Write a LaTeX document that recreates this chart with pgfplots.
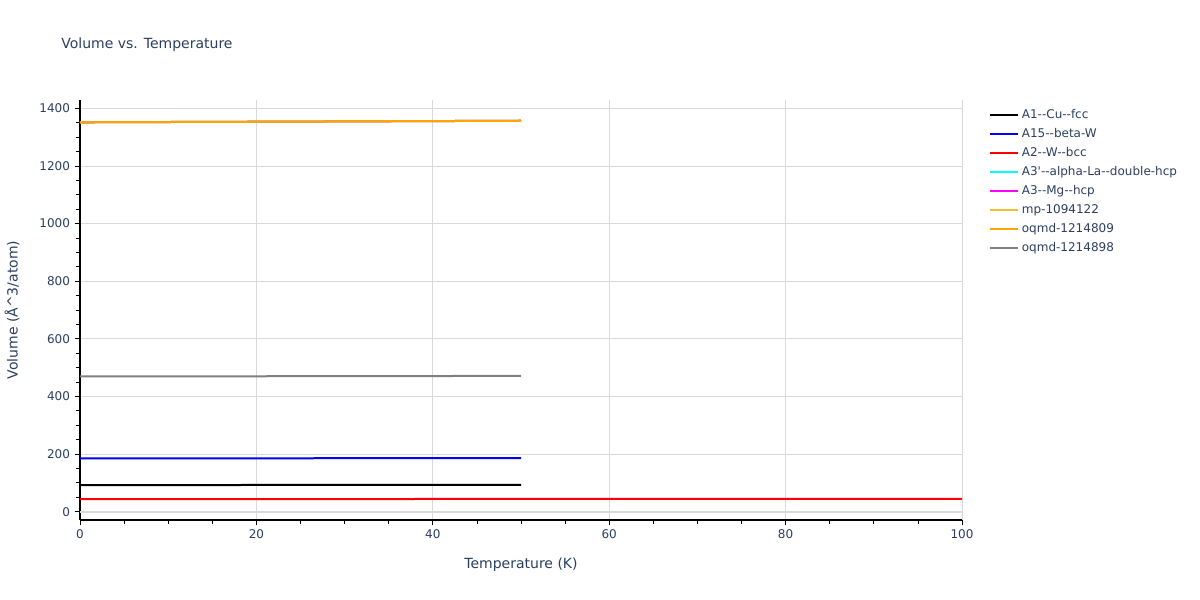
\documentclass[border=0pt]{standalone}
\usepackage{pgfplots}
\pgfplotsset{compat=1.18}
\usepackage{fontspec}
\setmainfont{DejaVu Sans}
\definecolor{plotlytext}{HTML}{2A3F5F}
\definecolor{gridc}{HTML}{D9D9D9}
\definecolor{mpyellow}{HTML}{F0C030}
\definecolor{oqorange}{HTML}{FFA500}
\definecolor{rgbcyan}{RGB}{0,255,255}
\definecolor{rgbmagenta}{RGB}{255,0,255}
\newcommand{\dd}{-{}-}
\begin{document}
\begin{tikzpicture}
  % 1 px of the reference = 0.75pt
  \path[use as bounding box] (0pt,0pt) rectangle (900pt,450pt);
  \node[anchor=west,font=\fontsize{10.5}{12}\selectfont,text=plotlytext] at (42.5pt,416.25pt) {Volume vs. Temperature};
  \begin{axis}[
      at={(60pt,60pt)}, anchor=south west,
      scale only axis,
      width=661.5pt, height=315pt,
      xmin=0, xmax=100,
      ymin=-28.8, ymax=1429,
      xtick={0,20,...,100},
      ytick={0,200,...,1400},
      minor x tick num=3,
      minor y tick num=3,
      tick align=outside,
      major tick length=4pt,
      minor tick length=3pt,
      tick style={black, line width=0.6pt},
      axis x line*=bottom,
      axis y line*=left,
      axis line style={black, line width=0.8pt, -},
      xmajorgrids, ymajorgrids,
      grid style={gridc, line width=0.6pt},
      extra y ticks={0},
      extra y tick labels={},
      extra y tick style={grid style={gridc, line width=1.5pt}},
      ticklabel style={font=\fontsize{9}{10}\selectfont, text=plotlytext},
      /pgf/number format/assume math mode=true,
      /pgf/number format/set thousands separator={},
      xlabel={Temperature (K)},
      ylabel={Volume (Å\^{}3/atom)},
      label style={font=\fontsize{10.5}{12}\selectfont, text=plotlytext},
      xlabel style={yshift=-7pt},
      legend style={at={(1.026,0.99)}, anchor=north west, draw=none, fill=none,
        font=\fontsize{9}{10}\selectfont, text=plotlytext,
        row sep=1.9pt, cells={anchor=west}},
      legend image code/.code={\draw[#1, line width=1.5pt] (0pt,0pt) -- (21pt,0pt);},
      every axis plot/.append style={line width=1.5pt, mark=none},
    ]
    \addplot[black] coordinates {(0,92.5) (10,92.6) (20,92.7) (30,92.8) (40,93.0) (50,93.2)};
    \addlegendentry{A1\dd Cu\dd fcc}
    \addplot[blue] coordinates {(0,185.0) (10,185.2) (20,185.4) (30,185.6) (40,185.9) (50,186.3)};
    \addlegendentry{A15\dd beta-W}
    \addplot[red] coordinates {(0,44.0) (20,44.0) (40,44.1) (60,44.1) (80,44.2) (100,44.2)};
    \addlegendentry{A2\dd W\dd bcc}
    \addplot[rgbcyan] coordinates {(0,1351.6) (10,1352.6) (20,1353.6) (30,1354.6) (40,1355.8) (50,1357.0)};
    \addlegendentry{A3\textquotesingle\dd alpha-La\dd double-hcp}
    \addplot[rgbmagenta] coordinates {(0,1351.6) (10,1352.6) (20,1353.6) (30,1354.6) (40,1355.8) (50,1357.0)};
    \addlegendentry{A3\dd Mg\dd hcp}
    \addplot[mpyellow] coordinates {(0,1351.6) (10,1352.6) (20,1353.6) (30,1354.6) (40,1355.8) (50,1357.0)};
    \addlegendentry{mp-1094122}
    \addplot[oqorange] coordinates {(0,1351.6) (10,1352.6) (20,1353.6) (30,1354.6) (40,1355.8) (50,1357.0)};
    \addlegendentry{oqmd-1214809}
    \addplot[gray] coordinates {(0,469.5) (10,469.8) (20,470.1) (30,470.5) (40,470.9) (50,471.4)};
    \addlegendentry{oqmd-1214898}
  \end{axis}
\end{tikzpicture}
\end{document}
